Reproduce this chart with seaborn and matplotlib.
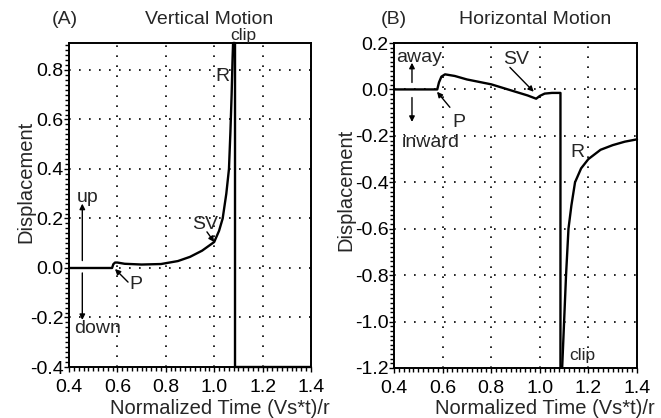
import numpy as np
import pandas as pd
import matplotlib
matplotlib.use("Agg")
import matplotlib.pyplot as plt
from matplotlib.ticker import MultipleLocator
import seaborn as sns

# DATA
t_vert = [0.40, 0.578, 0.583, 0.590, 0.600, 0.630, 0.700, 0.780, 0.850, 0.900,
          0.950, 1.000, 1.020, 1.035, 1.050, 1.061, 1.067, 1.072, 1.076, 1.078,
          1.086, 1.086, 1.40]
d_vert = [0.0, 0.0, 0.015, 0.022, 0.022, 0.017, 0.014, 0.016, 0.028, 0.045,
          0.070, 0.105, 0.150, 0.200, 0.300, 0.400, 0.550, 0.700, 0.850, 0.909,
          0.909, -0.40, -0.40]

t_horiz = [0.40, 0.578, 0.585, 0.595, 0.610, 0.650, 0.700, 0.800, 0.900, 0.950,
           0.985, 1.000, 1.020, 1.050, 1.085, 1.085]
d_horiz = [0.0, 0.0, 0.030, 0.055, 0.065, 0.058, 0.043, 0.022, -0.010, -0.026,
           -0.040, -0.028, -0.018, -0.015, -0.015, -1.20]

t_rayl = [1.092, 1.100, 1.108, 1.118, 1.130, 1.145, 1.170, 1.200, 1.250, 1.300,
          1.350, 1.400]
d_rayl = [-1.20, -1.00, -0.80, -0.60, -0.50, -0.40, -0.34, -0.30, -0.26, -0.24,
          -0.225, -0.215]

xticks = [0.4, 0.6, 0.8, 1.0, 1.2, 1.4]
yticks_a = [-0.4, -0.2, 0.0, 0.2, 0.4, 0.6, 0.8]
yticks_b = [-1.2, -1.0, -0.8, -0.6, -0.4, -0.2, 0.0, 0.2]

sns.set_style("ticks")
plt.rcParams["font.family"] = ["Liberation Sans", "DejaVu Sans"]

fig = plt.figure(figsize=(6.61, 4.18), dpi=100)
ax_a = fig.add_axes([69 / 661, 1 - 367 / 418, 242 / 661, 324 / 418])
ax_b = fig.add_axes([394 / 661, 1 - 368 / 418, 243 / 661, 325 / 418])

line_kw = dict(sort=False, estimator=None, color="black", lw=1.7, clip_on=False)
sns.lineplot(x=t_vert, y=d_vert, ax=ax_a, **line_kw)
sns.lineplot(x=t_horiz, y=d_horiz, ax=ax_b, **line_kw)
sns.lineplot(x=t_rayl, y=d_rayl, ax=ax_b, **line_kw)

ax_a.set_ylim(-0.4, 0.909)
ax_b.set_ylim(-1.2, 0.2)

FS = 14
for ax, yt in [(ax_a, yticks_a), (ax_b, yticks_b)]:
    ax.set_xlim(0.4, 1.4)
    ax.set_xticks(xticks)
    ax.set_yticks(yt)
    ax.set_xticklabels([f"{v:.1f}" for v in xticks])
    ax.set_yticklabels([f"{v:.1f}" for v in yt])
    ax.xaxis.set_minor_locator(MultipleLocator(0.02))
    ax.yaxis.set_minor_locator(MultipleLocator(0.02))
    ax.grid(True, which="major", color="black", linestyle=(0, (1, 5)), lw=1.2)
    ax.tick_params(which="major", direction="out", length=3.5, width=1,
                   labelsize=FS, color="black", labelcolor="black")
    ax.tick_params(axis="x", which="major", pad=5)
    ax.tick_params(axis="y", which="major", pad=0.5)
    ax.tick_params(which="minor", direction="out", length=3, width=1,
                   color="black")
    for s in ax.spines.values():
        s.set_color("black")
        s.set_linewidth(1.4)
    ax.set_xlabel("")
    ax.set_ylabel("")

# titles / labels
fig.text(65 / 661, 1 - 20 / 418, "(A)", ha="center", va="center", fontsize=FS)
fig.text(209 / 661, 1 - 20 / 418, "Vertical Motion", ha="center", va="center", fontsize=FS)
fig.text(394 / 661, 1 - 20 / 418, "(B)", ha="center", va="center", fontsize=FS)
fig.text(535 / 661, 1 - 20 / 418, "Horizontal Motion", ha="center", va="center", fontsize=FS)
fig.text(220 / 661, 1 - 414 / 418, "Normalized Time (Vs*t)/r", ha="center", va="baseline", fontsize=14.5)
fig.text(545 / 661, 1 - 414 / 418, "Normalized Time (Vs*t)/r", ha="center", va="baseline", fontsize=14.5)
fig.text(26 / 661, 1 - 182 / 418, "Displacement", ha="center", va="center", rotation=90, fontsize=14.5)
fig.text(346 / 661, 1 - 190 / 418, "Displacement", ha="center", va="center", rotation=90, fontsize=14.5)

arrow = dict(arrowstyle="-|>", color="black", lw=1.0, mutation_scale=8,
             shrinkA=0, shrinkB=0)

# panel A annotations
ax_a.annotate("", xy=(0.455, 0.26), xytext=(0.455, 0.03), arrowprops=arrow)
ax_a.annotate("", xy=(0.455, -0.21), xytext=(0.455, -0.02), arrowprops=arrow)
ax_a.text(0.479, 0.283, "up", ha="center", va="center", fontsize=FS)
ax_a.text(0.516, -0.243, "down", ha="center", va="center", fontsize=FS)
ax_a.annotate("", xy=(0.59, -0.004), xytext=(0.644, -0.057), arrowprops=arrow)
ax_a.text(0.677, -0.065, "P", ha="center", va="center", fontsize=FS)
ax_a.annotate("", xy=(1.0, 0.105), xytext=(0.97, 0.146), arrowprops=arrow)
ax_a.text(0.962, 0.174, "SV", ha="center", va="center", fontsize=FS)
ax_a.text(1.036, 0.774, "R", ha="center", va="center", fontsize=FS)
ax_a.text(1.119, 0.94, "clip", ha="center", va="center", fontsize=12.5, clip_on=False)

# panel B annotations
ax_b.annotate("", xy=(0.474, 0.115), xytext=(0.474, 0.03), arrowprops=arrow)
ax_b.annotate("", xy=(0.474, -0.14), xytext=(0.474, -0.035), arrowprops=arrow)
ax_b.text(0.503, 0.138, "away", ha="center", va="center", fontsize=FS)
ax_b.text(0.552, -0.228, "inward", ha="center", va="center", fontsize=FS)
ax_b.annotate("", xy=(0.577, -0.01), xytext=(0.63, -0.077), arrowprops=arrow)
ax_b.text(0.667, -0.142, "P", ha="center", va="center", fontsize=FS)
ax_b.annotate("", xy=(0.975, -0.01), xytext=(0.877, 0.095), arrowprops=arrow)
ax_b.text(0.902, 0.129, "SV", ha="center", va="center", fontsize=FS)
ax_b.text(1.153, -0.272, "R", ha="center", va="center", fontsize=FS)
ax_b.text(1.174, -1.147, "clip", ha="center", va="center", fontsize=12.5)

plt.savefig("out.png", dpi=100)
plt.close()
